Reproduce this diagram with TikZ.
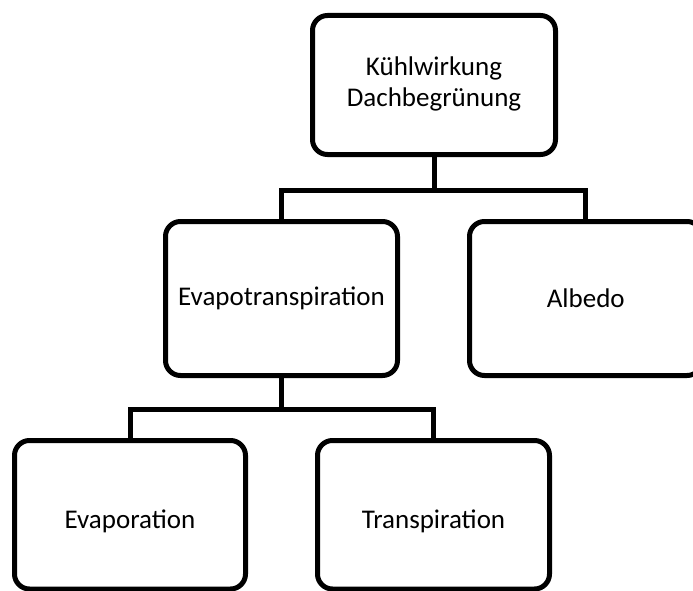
\documentclass[tikz,border=0pt]{standalone}
\usepackage{fontspec}
\setmainfont{Carlito}
\begin{document}
\begin{tikzpicture}[x=1pt,y=-1pt,
  box/.style={draw=black, line width=5pt, rounded corners=15pt, fill=white,
    inner sep=0pt, align=center, font=\fontsize{27}{31}\selectfont},
  link/.style={draw=black, line width=5pt}]
  \useasboundingbox (0,0) rectangle (693,591);
  \clip (0,0) rectangle (693,591);

  % boxes
  \node[box, minimum width=243pt, minimum height=139pt] (top) at (434,85)
    {\raisebox{-12pt}{\begin{tabular}{@{}c@{}}Kühlwirkung\\Dachbegrünung\end{tabular}}};
  \node[box, minimum width=232pt, minimum height=154pt] (evt) at (281.5,298.5)
    {\raisebox{-10pt}{Evapotranspiration}};
  \node[box, minimum width=232.5pt, minimum height=154pt] (alb) at (585.75,298.5)
    {\raisebox{-10pt}{Albedo}};
  \node[box, minimum width=231pt, minimum height=148.5pt] (evp) at (130,514.75)
    {\raisebox{-31pt}{Evaporation}};
  \node[box, minimum width=232pt, minimum height=148.5pt] (tra) at (433.5,514.75)
    {\raisebox{-31pt}{Transpiration}};

  % junctions of the tree
  \coordinate (j1) at (434,190.5);
  \coordinate (j2) at (281.5,409.5);

  % connectors
  \draw[link] (top.south) -- (j1);
  \draw[link] (evt.north) |- (j1) -| (alb.north);
  \draw[link] (evt.south) -- (j2);
  \draw[link] (evp.north) |- (j2) -| (tra.north);
\end{tikzpicture}
\end{document}
